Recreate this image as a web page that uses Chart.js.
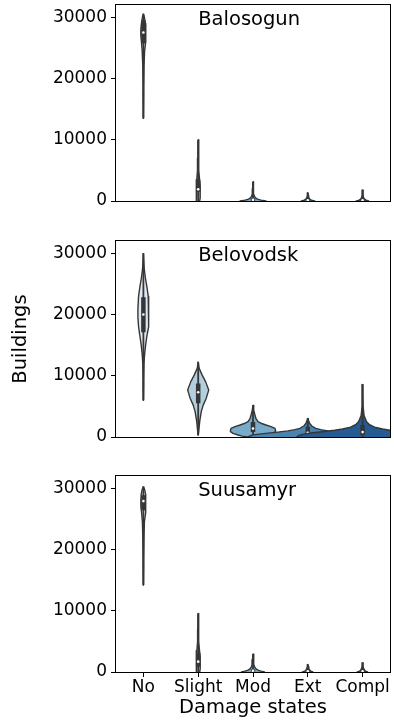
<!DOCTYPE html>
<html><head><meta charset="utf-8">
<script src="https://cdn.jsdelivr.net/npm/chart.js@4"></script>
<style>
html,body{margin:0;padding:0;background:#fff;width:394px;height:720px;overflow:hidden;position:relative}
canvas{position:absolute;left:0}
</style></head><body>
<canvas id="c0" width="394" height="210" style="top:0px;width:394px;height:210px"></canvas>
<canvas id="c1" width="394" height="210" style="top:236px;width:394px;height:210px"></canvas>
<canvas id="c2" width="394" height="249" style="top:471px;width:394px;height:249px"></canvas>
<script>
// ---------- data ----------
const categories = ["No", "Slight", "Mod", "Ext", "Compl"];
const towns = ["Balosogun", "Belovodsk", "Suusamyr"];
const yTicks = [0, 10000, 20000, 30000];
const yMin = 0, yMax = 32000;
const titleAnchorX = 1, titleAnchorY = 28000;

// violin profiles: building counts (descending) and half-widths (category units)
// Balosogun
const balNoV = [30600, 30000, 29000, 28000, 27000, 26000, 24500, 22000, 18000, 13500];
const balNoW = [0, 0.018, 0.036, 0.047, 0.047, 0.036, 0.022, 0.011, 0.005, 0];
const balSlightV = [10000, 7000, 5000, 3500, 2500, 1500, 500, 0, -300];
const balSlightW = [0, 0.005, 0.013, 0.026, 0.036, 0.040, 0.033, 0.027, 0];
const balModV = [3150, 2000, 1200, 800, 500, 300, 150, 0, -400];
const balModW = [0, 0.005, 0.013, 0.024, 0.046, 0.082, 0.146, 0.237, 0.255];
const balExtV = [1360, 900, 600, 300, 150, 0, -300];
const balExtW = [0, 0.007, 0.016, 0.036, 0.064, 0.119, 0.128];
const balComplV = [1800, 1000, 600, 300, 150, 0, -300];
const balComplW = [0, 0.007, 0.016, 0.036, 0.064, 0.109, 0.119];
const balQ1 = [25700, 1500, 50, 30, 30];
const balMed = [27500, 1900, 200, 100, 120];
const balQ3 = [29500, 3400, 450, 250, 300];
const balLo = [13500, 0, 0, 0, 0];
const balHi = [30500, 10000, 3150, 1360, 1800];

// Belovodsk
const belNoV = [30000, 27500, 26000, 24500, 23000, 21000, 19500, 18000, 16500, 15000, 13500, 12000, 9000, 6000];
const belNoW = [0, 0.015, 0.036, 0.064, 0.088, 0.100, 0.100, 0.088, 0.064, 0.040, 0.022, 0.011, 0.005, 0];
const belSlightV = [12270, 11200, 10100, 9000, 7660, 6300, 5200, 4100, 2500, 860, 300];
const belSlightW = [0, 0.018, 0.073, 0.137, 0.192, 0.146, 0.091, 0.055, 0.027, 0.009, 0];
const belModV = [5200, 4400, 3600, 3000, 2500, 2250, 1960, 1700, 1400, 1150, 870, 600, 330, 150, 0, -100];
const belModW = [0, 0.013, 0.036, 0.055, 0.091, 0.146, 0.237, 0.328, 0.401, 0.411, 0.411, 0.365, 0.274, 0.201, 0.109, 0];
const belExtV = [3100, 2600, 2200, 1800, 1400, 1200, 1000, 800, 600, 350, 0, -200];
const belExtW = [0, 0.018, 0.036, 0.073, 0.146, 0.237, 0.365, 0.547, 0.766, 1.004, 1.095, 1.131];
const belComplV = [8600, 5000, 3500, 2500, 2000, 1600, 1300, 1100, 900, 700, 500, 250, 0, -200];
const belComplW = [0, 0.009, 0.027, 0.073, 0.128, 0.219, 0.365, 0.511, 0.693, 0.912, 1.058, 1.168, 1.204, 1.241];
const belQ1 = [17100, 5500, 800, 330, 330];
const belMed = [20000, 7300, 1400, 700, 800];
const belQ3 = [22800, 8750, 2450, 1680, 1950];
const belLo = [6000, 300, 0, 0, 0];
const belHi = [30000, 12270, 5200, 3100, 8600];

// Suusamyr
const suuNoV = [30300, 29800, 29000, 28000, 27000, 26000, 24500, 22000, 18000, 14200];
const suuNoW = [0, 0.022, 0.040, 0.047, 0.046, 0.033, 0.018, 0.011, 0.005, 0];
const suuSlightV = [9560, 7000, 5000, 3500, 2500, 1500, 500, 0, -300];
const suuSlightW = [0, 0.005, 0.011, 0.024, 0.036, 0.040, 0.033, 0.027, 0];
const suuModV = [2950, 2000, 1200, 800, 500, 300, 150, 0, -400];
const suuModW = [0, 0.009, 0.018, 0.033, 0.055, 0.091, 0.146, 0.210, 0.219];
const suuExtV = [1250, 900, 600, 300, 150, 0, -300];
const suuExtW = [0, 0.007, 0.018, 0.036, 0.055, 0.091, 0.100];
const suuComplV = [1520, 1000, 600, 300, 150, 0, -300];
const suuComplW = [0, 0.007, 0.018, 0.036, 0.055, 0.091, 0.100];
const suuQ1 = [26400, 870, 50, 30, 30];
const suuMed = [27900, 1690, 200, 100, 100];
const suuQ3 = [28850, 3050, 450, 250, 250];
const suuLo = [14200, 0, 0, 0, 0];
const suuHi = [30300, 9560, 2950, 1250, 1520];

// ---------- styles ----------
const palette = ['#dee9f3', '#b3cedf', '#78aac9', '#4884af', '#235b92'];
const GRAY = '#363636';
const FONT = '"DejaVu Sans"';
Chart.defaults.font.family = FONT;
Chart.defaults.color = '#000';

const panels = [
  {profiles: [[balNoV, balNoW], [balSlightV, balSlightW], [balModV, balModW], [balExtV, balExtW], [balComplV, balComplW]],
   q1: balQ1, med: balMed, q3: balQ3, lo: balLo, hi: balHi},
  {profiles: [[belNoV, belNoW], [belSlightV, belSlightW], [belModV, belModW], [belExtV, belExtW], [belComplV, belComplW]],
   q1: belQ1, med: belMed, q3: belQ3, lo: belLo, hi: belHi},
  {profiles: [[suuNoV, suuNoW], [suuSlightV, suuSlightW], [suuModV, suuModW], [suuExtV, suuExtW], [suuComplV, suuComplW]],
   q1: suuQ1, med: suuMed, q3: suuQ3, lo: suuLo, hi: suuHi}
];

function buildDatasets(p) {
  const ds = [];
  categories.forEach((cat, c) => {
    const [V, W] = p.profiles[c];
    const base = {type: 'line', pointRadius: 0, borderColor: GRAY, borderWidth: 1.4,
      backgroundColor: palette[c], fill: {value: c}, tension: 0, borderJoinStyle: 'round'};
    ds.push(Object.assign({}, base, {data: V.map((v, i) => ({x: c - W[i], y: v}))}));
    ds.push(Object.assign({}, base, {data: V.map((v, i) => ({x: c + W[i], y: v}))}));
    ds.push({type: 'line', data: [{x: c, y: p.hi[c]}, {x: c, y: p.lo[c]}], borderColor: GRAY,
      borderWidth: 1.8, pointRadius: 0, fill: false, borderCapStyle: 'butt'});
    ds.push({type: 'line', data: [{x: c, y: p.q3[c]}, {x: c, y: p.q1[c]}], borderColor: GRAY,
      borderWidth: 4.5, pointRadius: 0, fill: false, borderCapStyle: 'butt'});
    ds.push({type: 'line', data: [{x: c, y: p.med[c]}], showLine: false, pointRadius: 1.3,
      pointBackgroundColor: '#ffffff', pointBorderWidth: 0, fill: false});
  });
  ds.forEach((d, k) => { d.order = -k; });
  return ds;
}

const framePlugin = {
  id: 'frame',
  afterDraw(chart, args, opts) {
    const {ctx, chartArea: a, scales} = chart;
    ctx.save();
    ctx.strokeStyle = '#000';
    ctx.lineWidth = 1;
    ctx.strokeRect(a.left - 0.5, a.top - 0.5, a.right - a.left + 1, a.bottom - a.top + 1);
    const fs = 19.5;
    ctx.font = fs + 'px ' + FONT;
    ctx.fillStyle = '#000';
    ctx.textAlign = 'left';
    ctx.textBaseline = 'alphabetic';
    ctx.fillText(opts.text, scales.x.getPixelForValue(titleAnchorX),
      scales.y.getPixelForValue(titleAnchorY) - 0.236 * fs);
    ctx.restore();
  }
};

function zeroPad(s) { s.paddingTop = 0; s.paddingBottom = 0; s.paddingLeft = 0; s.paddingRight = 0; }

panels.forEach((p, idx) => {
  const last = idx === panels.length - 1;
  const middle = idx === 1;
  new Chart(document.getElementById('c' + idx), {
    type: 'line',
    data: {datasets: buildDatasets(p)},
    plugins: [framePlugin],
    options: {
      responsive: false,
      animation: false,
      events: [],
      indexAxis: 'y',
      layout: {padding: {top: 5, left: 0, right: 4, bottom: 0}},
      plugins: {legend: {display: false}, tooltip: {enabled: false}, frame: {text: towns[idx]}},
      scales: {
        x: {
          type: 'linear', position: 'bottom', min: -0.5, max: 4.5,
          afterBuildTicks: s => { s.ticks = categories.map((_, i) => ({value: i})); },
          afterFit: s => { s.height = last ? 48 : 9; zeroPad(s); },
          ticks: {display: last, autoSkip: false, maxRotation: 0, padding: 0,
            font: {size: 17}, color: '#000', callback: v => categories[v]},
          grid: {display: last, drawOnChartArea: false, drawTicks: true, tickLength: 5, color: '#000', lineWidth: 1},
          border: {display: false},
          title: {display: last, text: 'Damage states', font: {size: 19.5}, color: '#000', padding: {top: 0, bottom: 0}}
        },
        y: {
          type: 'linear', position: 'left', min: yMin, max: yMax,
          afterBuildTicks: s => { s.ticks = yTicks.map(v => ({value: v})); },
          afterFit: s => { s.width = 116; zeroPad(s); },
          ticks: {padding: 4, font: {size: 17}, color: '#000', callback: v => String(v)},
          grid: {display: true, drawOnChartArea: false, drawTicks: true, tickLength: 5, color: '#000', lineWidth: 1},
          border: {display: false},
          title: {display: middle, text: 'Buildings', font: {size: 19.5}, color: '#000', padding: {top: 9, bottom: 0}}
        }
      }
    }
  });
});
</script>
</body></html>
